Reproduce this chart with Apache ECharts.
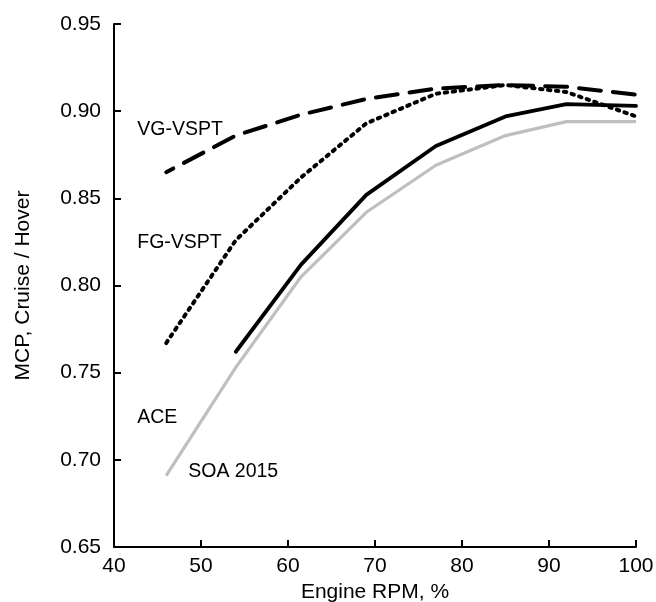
<!DOCTYPE html>
<html>
<head>
<meta charset="utf-8">
<script src="https://cdn.jsdelivr.net/npm/echarts@6/dist/echarts.min.js"></script>
<style>
html,body{margin:0;padding:0;background:#fff;}
#chart{width:656px;height:602px;}
</style>
</head>
<body>
<div id="chart"></div>
<script>
// Data
var rpm = [46, 54, 61.5, 69, 77, 85, 92, 100];
var soa2015 = [0.691, 0.753, 0.805, 0.842, 0.869, 0.886, 0.894, 0.894];
var ace = [null, 0.762, 0.812, 0.852, 0.880, 0.897, 0.904, 0.903];
var fgVspt = [0.767, 0.826, 0.862, 0.893, 0.910, 0.915, 0.911, 0.897];
var vgVspt = [0.865, 0.886, 0.898, 0.907, 0.913, 0.915, 0.914, 0.9095];
var xTicks = [40, 50, 60, 70, 80, 90, 100];
var yTicks = [0.65, 0.70, 0.75, 0.80, 0.85, 0.90, 0.95];
// Series annotation labels [name, x, y] in data coordinates
var seriesLabels = [
  ['VG-VSPT', 42.67, 0.8895],
  ['FG-VSPT', 42.67, 0.8245],
  ['ACE', 42.67, 0.724],
  ['SOA 2015', 48.53, 0.6931]
];

function pairs(ys) {
  var out = [];
  for (var i = 0; i < rpm.length; i++) {
    if (ys[i] !== null) out.push([rpm[i], ys[i]]);
  }
  return out;
}

var FONT = '"Liberation Sans", Arial, Helvetica, sans-serif';
var chart = echarts.init(document.getElementById('chart'), null, {renderer: 'canvas'});

var option = {
  animation: false,
  backgroundColor: '#ffffff',
  grid: {left: 114, right: 20, top: 24, bottom: 55, containLabel: false, outerBoundsMode: 'none'},
  xAxis: {
    type: 'value',
    min: xTicks[0], max: xTicks[xTicks.length - 1], interval: 10,
    name: 'Engine RPM, %',
    nameLocation: 'middle',
    nameGap: 31,
    nameTextStyle: {fontFamily: FONT, fontSize: 21, color: '#000'},
    axisLine: {show: true, lineStyle: {color: '#000', width: 2}},
    axisTick: {show: true, inside: true, length: 7, lineStyle: {color: '#000', width: 2}},
    axisLabel: {fontFamily: FONT, fontSize: 21, color: '#000', margin: 9},
    splitLine: {show: false}
  },
  yAxis: {
    type: 'value',
    min: yTicks[0], max: yTicks[yTicks.length - 1], interval: 0.05,
    name: 'MCP, Cruise / Hover',
    nameLocation: 'middle',
    nameGap: 80,
    nameTextStyle: {fontFamily: FONT, fontSize: 21, color: '#000'},
    axisLine: {show: true, lineStyle: {color: '#000', width: 2}},
    axisTick: {show: true, inside: true, length: 7, lineStyle: {color: '#000', width: 2}},
    axisLabel: {fontFamily: FONT, fontSize: 21, color: '#000', margin: 13,
      formatter: function (v) { return v.toFixed(2); }},
    splitLine: {show: false}
  },
  series: [
    {
      name: 'SOA 2015', type: 'line', data: pairs(soa2015),
      symbol: 'none', lineStyle: {color: '#bfbfbf', width: 3.2}
    },
    {
      name: 'ACE', type: 'line', data: pairs(ace),
      symbol: 'none', lineStyle: {color: '#000', width: 3.8, cap: 'round'}
    },
    {
      name: 'FG-VSPT', type: 'line', data: pairs(fgVspt),
      symbol: 'none', lineStyle: {color: '#000', width: 4, type: [2.5, 5.5], cap: 'round'}
    },
    {
      name: 'VG-VSPT', type: 'line', data: pairs(vgVspt),
      symbol: 'none', lineStyle: {color: '#000', width: 4, type: [22, 12], dashOffset: 14, cap: 'round'}
    },
    {
      name: 'labels', type: 'line', data: [], symbol: 'none',
      markPoint: {
        symbol: 'circle', symbolSize: 0,
        label: {show: true, position: 'right', distance: 0,
          fontFamily: FONT, fontSize: 19.5, color: '#000',
          formatter: function (p) { return p.name; }},
        data: seriesLabels.map(function (s) { return {name: s[0], coord: [s[1], s[2]]}; })
      }
    }
  ]
};
chart.setOption(option);
</script>
</body>
</html>
